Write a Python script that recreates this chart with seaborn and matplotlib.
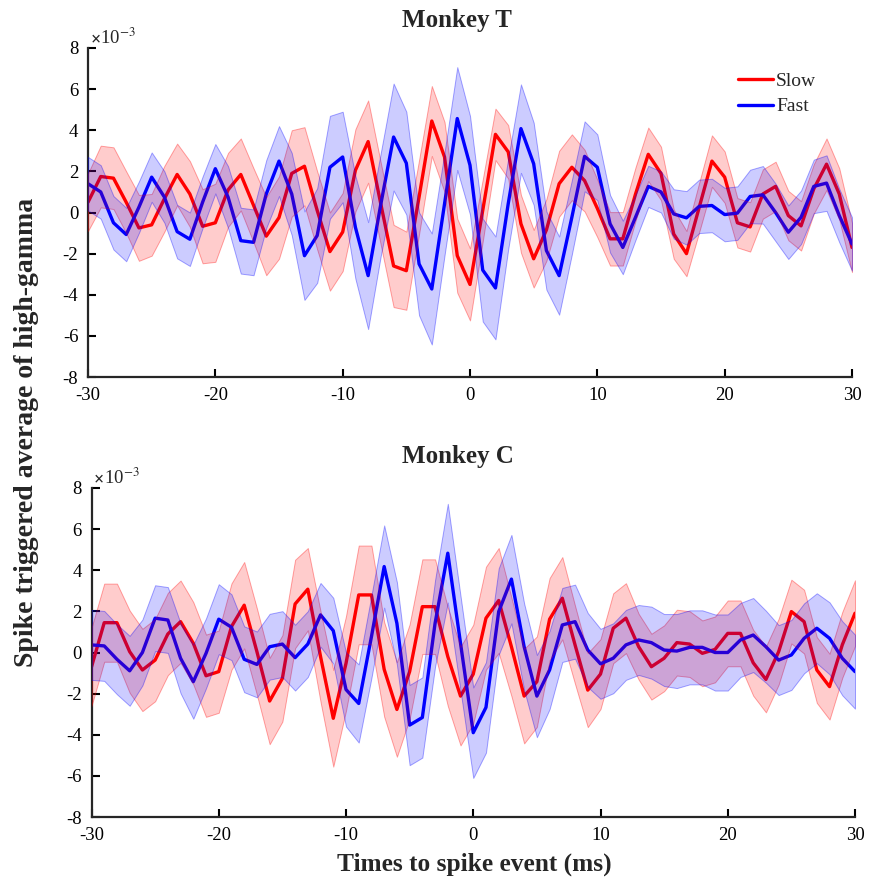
import numpy as np
import pandas as pd
import matplotlib
matplotlib.use("Agg")
import matplotlib.pyplot as plt
import seaborn as sns
from matplotlib.lines import Line2D

# ---------------- data (x 1e-3) ----------------
times = list(range(-30, 31))

top_slow = [0.5, 1.75, 1.67, 0.5, -0.75, -0.6, 0.67, 1.85, 0.9, -0.67,
            -0.5, 1.1, 1.85, 0.35, -1.15, -0.25, 1.9, 2.25, 0.1, -1.9,
            -0.95, 2.05, 3.45, 0.4, -2.6, -2.83, 0.75, 4.45, 2.7, -2.1,
            -3.5, 0.1, 3.8, 2.95, -0.55, -2.25, -0.85, 1.4, 2.2, 1.55,
            0.2, -1.28, -1.28, 0.9, 2.83, 1.9, -1.05, -2.0, 0.25, 2.5,
            1.72, -0.5, -0.7, 0.9, 1.27, -0.15, -0.65, 1.15, 2.35, 0.9, -1.7]
top_fast = [1.4, 1.0, -0.5, -1.07, 0.26, 1.72, 0.75, -0.93, -1.3, 0.5,
            2.13, 0.75, -1.37, -1.45, 0.9, 2.5, 0.9, -2.1, -1.12, 2.2,
            2.7, -0.72, -3.07, 0.42, 3.67, 2.4, -2.5, -3.72, 0.42, 4.57,
            2.3, -2.8, -3.67, 0.42, 4.08, 2.37, -1.85, -3.07, -0.23, 2.73,
            2.2, -0.55, -1.7, -0.23, 1.27, 1.0, -0.07, -0.26, 0.3, 0.34,
            -0.1, -0.03, 0.78, 0.86, 0.0, -0.96, -0.23, 1.27, 1.43, -0.15, -1.53]
bot_slow = [-0.7, 1.45, 1.45, 0.04, -0.85, -0.37, 0.9, 1.5, 0.45, -1.13,
            -0.93, 1.26, 2.3, 0.04, -2.36, -1.26, 2.36, 3.08, -0.2, -3.2,
            -0.53, 2.8, 2.8, -0.82, -2.77, -0.93, 2.23, 2.23, -0.2, -2.12,
            -1.05, 1.67, 2.53, 0.28, -2.12, -1.42, 1.62, 2.64, 0.37, -1.83,
            -1.05, 1.18, 1.67, 0.28, -0.69, -0.28, 0.48, 0.41, -0.04, 0.15,
            0.93, 0.93, -0.5, -1.31, 0.04, 1.99, 1.5, -0.85, -1.66, 0.37, 1.91]
bot_fast = [0.37, 0.32, -0.33, -0.89, 0.0, 1.67, 1.58, -0.28, -1.42, -0.04,
            1.62, 1.23, -0.33, -0.58, 0.28, 0.41, -0.25, 0.41, 1.83, 1.06,
            -1.8, -2.48, 0.77, 4.18, 1.42, -3.53, -3.16, 1.42, 4.83, 0.45,
            -3.9, -2.67, 1.99, 3.57, 0.28, -2.12, -0.85, 1.34, 1.5, 0.12,
            -0.55, -0.28, 0.37, 0.61, 0.48, 0.12, 0.07, 0.25, 0.25, 0.0,
            0.0, 0.61, 0.85, 0.28, -0.37, -0.12, 0.69, 1.18, 0.69, -0.28, -0.93]

# half-width of the shaded error bands
top_slow_err = [1.4, 1.5, 1.5, 1.5, 1.6, 1.5, 1.6, 1.5, 1.6, 1.8, 1.9,
                1.8, 1.75, 1.8, 1.9, 2.0, 2.1, 1.9, 1.9, 1.9, 1.9, 2.0, 2.0, 2.0, 2.0,
                1.9, 1.8, 1.7, 1.7, 1.8,
                1.75, 1.5, 1.25, 1.3, 1.4, 1.4, 1.5, 1.6, 1.6, 1.5, 1.4,
                1.3, 1.3, 1.3, 1.3, 1.3, 1.2, 1.1, 1.2, 1.25, 1.25,
                1.2, 1.2, 1.2, 1.2, 1.2, 1.2, 1.2, 1.25, 1.25, 1.2]
top_fast_err = [1.3, 1.3, 1.3, 1.3, 1.25, 1.2, 1.25, 1.3, 1.3, 1.25, 1.2,
                1.5, 1.6, 1.6, 1.65, 1.7,
                2.0, 2.15, 2.3, 2.5, 2.2,
                2.5, 2.6, 2.5, 2.6, 2.5, 2.5, 2.7, 2.5, 2.5, 2.4, 2.5, 2.5, 2.2, 2.15, 2.0,
                1.9, 1.9, 1.8, 1.7, 1.6,
                1.4, 1.3, 1.1, 1.0, 1.0, 1.2, 1.3, 1.3, 1.3, 1.3,
                1.3, 1.3, 1.4, 1.4, 1.3, 1.3, 1.3, 1.35, 1.3, 1.3]
bot_slow_err = [1.9, 1.9, 1.9, 2.0, 2.0, 2.0, 2.0, 2.0, 2.0, 2.0, 2.0,
                2.1, 2.1, 2.1, 2.1, 2.1, 2.15, 2.0, 2.2, 2.35, 2.3,
                2.4, 2.4, 2.3, 2.3, 2.3, 2.3, 2.3, 2.4, 2.4, 2.4, 2.5, 2.55, 2.4, 2.3, 2.2,
                2.0, 2.0, 1.9, 1.8, 1.7, 1.7, 1.7, 1.6, 1.6, 1.6,
                1.6, 1.6, 1.6, 1.6, 1.6, 1.6, 1.6, 1.6, 1.6, 1.55,
                1.55, 1.6, 1.6, 1.6, 1.6]
bot_fast_err = [1.7, 1.7, 1.7, 1.7, 1.6, 1.6, 1.6, 1.7, 1.8, 1.7, 1.7,
                1.6, 1.6, 1.6, 1.6, 1.6, 1.6, 1.6, 1.55, 1.6, 1.8,
                1.9, 2.0, 2.0, 2.0, 1.95, 1.95, 2.1, 2.4, 2.3, 2.2, 2.2, 2.1, 2.15, 2.1, 2.0,
                1.9, 1.8, 1.8, 1.8, 1.7, 1.7, 1.7, 1.7, 1.75, 1.75,
                1.8, 1.8, 1.8, 1.85, 1.85, 1.8, 1.8, 1.75, 1.7, 1.7,
                1.7, 1.7, 1.75, 1.8, 1.8]

panel_titles = ["Monkey T", "Monkey C"]
series_names = ["Slow", "Fast"]
x_ticks = [-30, -20, -10, 0, 10, 20, 30]
y_ticks = [-8, -6, -4, -2, 0, 2, 4, 6, 8]

# ---------------- style ----------------
sns.set_style("ticks")
plt.rcParams["font.family"] = ["Liberation Serif", "DejaVu Serif"]
plt.rcParams["mathtext.fontset"] = "stix"
plt.rcParams["axes.unicode_minus"] = False

colors = {"Slow": (1.0, 0.0, 0.0), "Fast": (0.0, 0.0, 1.0)}

fig = plt.figure(figsize=(8.69, 8.86), dpi=100)
W, H = 869, 886
ax_top = fig.add_axes([88 / W, 1 - 377 / H, (852 - 88) / W, (377 - 48) / H])
ax_bot = fig.add_axes([91.5 / W, 1 - 817 / H, (855 - 91.5) / W, (817 - 488) / H])

panels = [
    (ax_top, {"Slow": (top_slow, top_slow_err), "Fast": (top_fast, top_fast_err)}),
    (ax_bot, {"Slow": (bot_slow, bot_slow_err), "Fast": (bot_fast, bot_fast_err)}),
]

for ax, series in panels:
    rows = []
    for name in series_names:
        mean, err = series[name]
        for t, m in zip(times, mean):
            rows.append({"t": t, "value": m, "speed": name})
    df = pd.DataFrame(rows)
    sns.lineplot(data=df, x="t", y="value", hue="speed", hue_order=series_names,
                 palette=colors, linewidth=2.4, errorbar=None, legend=False,
                 ax=ax, zorder=2)
    for name in series_names:
        mean, err = series[name]
        m = np.array(mean)
        e = np.array(err)
        c = colors[name]
        ax.fill_between(times, m - e, m + e, facecolor=c + (0.2,),
                        edgecolor=c + (0.35,), linewidth=0.7, zorder=3)
    ax.set_xlim(-30, 30)
    ax.set_ylim(-8, 8)
    ax.set_xticks(x_ticks)
    ax.set_yticks(y_ticks)
    ax.set_xlabel("")
    ax.set_ylabel("")
    for s in ["top", "right"]:
        ax.spines[s].set_visible(False)
    for s in ["left", "bottom"]:
        ax.spines[s].set_linewidth(1.6)
    ax.tick_params(direction="in", length=6, width=1.5, labelsize=13.5,
                   pad=7, colors="black")
    ax.text(0.003, 1.0, "×", transform=ax.transAxes, fontsize=13,
            fontweight="bold", ha="left", va="bottom")
    ax.text(0.016, 1.0, "10$^{-3}$", transform=ax.transAxes, fontsize=13.5,
            ha="left", va="bottom")

fig.text(457 / W, 1 - 20 / H, panel_titles[0], ha="center", va="center",
         fontsize=18, fontweight="bold")
fig.text(458 / W, 1 - 457 / H, panel_titles[1], ha="center", va="center",
         fontsize=18, fontweight="bold")
fig.text(474 / W, 1 - 864 / H, "Times to spike event (ms)", ha="center",
         va="center", fontsize=18.3, fontweight="bold")
fig.text(27 / W, 1 - 432 / H, "Spike triggered average of high-gamma",
         ha="center", va="center", rotation=90, fontsize=20, fontweight="bold")

handles = [Line2D([0], [0], color=colors[n], lw=2.4) for n in series_names]
ax_top.legend(handles, series_names, loc="upper left",
              bbox_to_anchor=((738 - 88) / 764, (377 - 72) / 329),
              frameon=False, fontsize=14, handlelength=1.8, handletextpad=0.15,
              labelspacing=0.42, borderpad=0, borderaxespad=0)

fig.savefig("out.png", dpi=100)
